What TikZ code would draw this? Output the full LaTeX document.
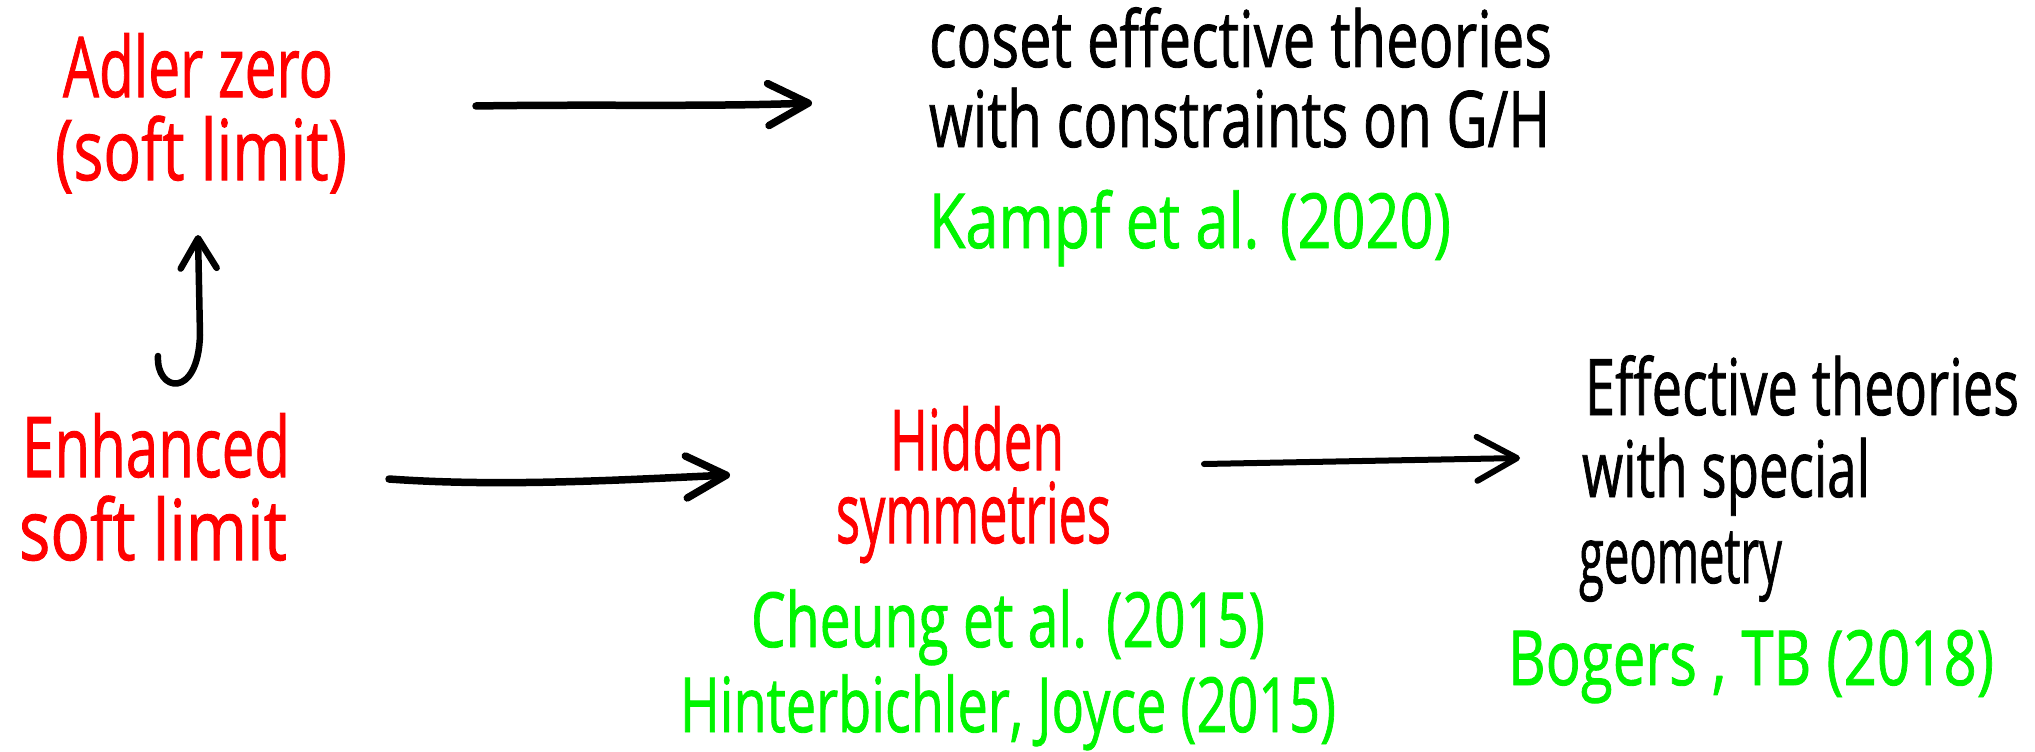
\documentclass[tikz,border=0pt]{standalone}
\usepackage{fontspec}
\setmainfont{Open Sans}[FakeBold=1.2]
\usetikzlibrary{arrows.meta}
\definecolor{inkred}{RGB}{255,0,0}
\definecolor{inkgreen}{RGB}{0,245,0}
% squeeze or stretch a line of text to a given width, keeping its height
\newcommand\wfit[2]{\resizebox{#1pt}{\height}{#2}}
\begin{document}
\begin{tikzpicture}[x=1pt,y=-1pt,
  lbl/.style={anchor=base west,inner sep=0pt,outer sep=0pt},
  concept/.style={lbl,font=\fontsize{84}{90}\selectfont,text=inkred},
  theory/.style={lbl,font=\fontsize{78}{80}\selectfont,text=black},
  cite/.style={lbl,font=\fontsize{76}{80}\selectfont,text=inkgreen},
  pen/.style={line cap=round,line join=round},
  arr/.style={pen,line width=7.5pt,-{Straight Barb[length=40pt,width=42pt,round]}},
  thinarr/.style={pen,line width=6pt,-{Straight Barb[length=40pt,width=44pt,round]}},
  hookarr/.style={pen,line width=6.5pt,-{Straight Barb[length=30pt,width=36pt,round]}}]
\useasboundingbox (0,0) rectangle (2035,752);

% soft-limit concepts (red)
\node[concept] (adlerA) at (63,97)  {\wfit{270}{Adler zero}};
\node[concept] (adlerB) at (55,180) {\wfit{292}{(soft limit)}};
\node[concept] (enhA)   at (22,477) {\wfit{268}{Enhanced}};
\node[concept] (enhB)   at (19,560) {\wfit{268}{soft limit}};
\node[concept] (hidA)   at (890,470) {\wfit{174}{Hidden}};
\node[concept] (hidB)   at (836,543) {\wfit{275}{symmetries}};

% resulting theories (black)
\node[theory] (cosA) at (929,67)  {\wfit{623}{coset effective theories}};
\node[theory] (cosB) at (929,147) {\wfit{621}{with constraints on G/H}};
\node[theory] (effA) at (1585,415) {\wfit{434}{Effective theories}};
\node[theory] (effB) at (1582,497) {\wfit{288}{with special}};
\node[theory] (effC) at (1579,583) {\wfit{203}{geometry}};

% references (green)
\node[cite] (kampf)  at (929,248) {\wfit{522}{Kampf et al. (2020)}};
\node[cite] (cheung) at (751,647) {\wfit{514}{Cheung et al. (2015)}};
\node[cite] (hinter) at (680,732) {\wfit{656}{Hinterbichler, Joyce (2015)}};
\node[cite] (bogers) at (1508,685) {\wfit{486}{Bogers , TB (2018)}};

% connector end points
\coordinate (topS) at (476,106);
\coordinate (topE) at (812,103);
\coordinate (midS) at (389,479);
\coordinate (midE) at (730,475);
\coordinate (rgtS) at (1204,464);
\coordinate (rgtE) at (1520,458);
\coordinate (hookS) at (158,356);
\coordinate (hookE) at (198,235);

\draw[arr] (topS) .. controls (600,104) and (700,107) .. (topE);
\draw[arr] (midS) .. controls (500,487) and (620,480) .. (midE);
\draw[thinarr] (rgtS) -- (rgtE);
\draw[hookarr] (hookS) .. controls (156,392) and (198,400) .. (200,335) -- (hookE);
\end{tikzpicture}
\end{document}
